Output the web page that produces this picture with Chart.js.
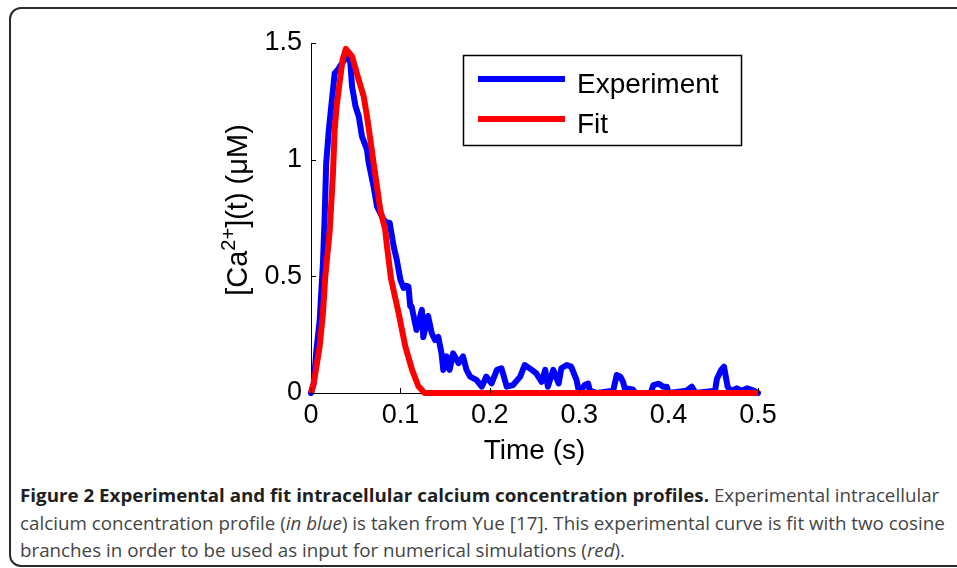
<!DOCTYPE html>
<html>
<head>
<meta charset="utf-8">
<script src="https://cdn.jsdelivr.net/npm/chart.js@4/dist/chart.umd.min.js"></script>
<style>
    body {
        margin: 0;
        width: 957px;
        height: 568px;
        background: #ffffff;
        overflow: hidden;
        position: relative;
    }
    .frame {
        position: absolute;
        left: 9px;
        top: 7px;
        width: 1000px;
        height: 560px;
        border: 2px solid #2b2b2b;
        border-radius: 12px;
        box-sizing: border-box;
    }
    #chartWrap {
        position: absolute;
        left: 0;
        top: 0;
        width: 957px;
        height: 480px;
    }
    .caption {
        position: absolute;
        left: 20px;
        top: 481px;
        font-family: 'Open Sans', sans-serif;
        font-size: 18.5px;
        line-height: 27.5px;
        color: #454545;
        white-space: nowrap;
        transform: scaleX(1.015);
        transform-origin: left top;
    }
    .caption b {
        color: #1f1f1f;
    }
</style>
</head>
<body>
<div class="frame"></div>
<div id="chartWrap"><canvas id="calciumChart" width="957" height="480"></canvas></div>
<div class="caption">
    <b>Figure 2 Experimental and fit intracellular calcium concentration profiles.</b> Experimental intracellular<br>
    calcium concentration profile (<i>in blue</i>) is taken from Yue [17]. This experimental curve is fit with two cosine<br>
    branches in order to be used as input for numerical simulations (<i>red</i>).
</div>

<script>
// Experimental trace (blue)
const expTime = [0, 0.003, 0.006, 0.0097, 0.0134, 0.0153, 0.017, 0.020, 0.0227, 0.0265,
    0.030, 0.034, 0.040, 0.042, 0.044, 0.0459, 0.0497, 0.0534, 0.057, 0.0626,
    0.0645, 0.070, 0.0738, 0.0813, 0.085, 0.088, 0.0925, 0.096, 0.100, 0.1036,
    0.106, 0.109, 0.111, 0.1126, 0.118, 0.124, 0.1256, 0.131, 0.135, 0.1387,
    0.1424, 0.146, 0.148, 0.1517, 0.155, 0.159, 0.165, 0.170, 0.174, 0.178,
    0.185, 0.191, 0.196, 0.202, 0.208, 0.213, 0.219, 0.226, 0.234, 0.239,
    0.247, 0.252, 0.258, 0.262, 0.265, 0.271, 0.277, 0.280, 0.286, 0.291,
    0.297, 0.300, 0.306, 0.310, 0.312, 0.320, 0.338, 0.342, 0.346, 0.349,
    0.351, 0.360, 0.363, 0.380, 0.383, 0.389, 0.394, 0.398, 0.400, 0.420,
    0.426, 0.430, 0.452, 0.454, 0.459, 0.462, 0.464, 0.466, 0.470, 0.476,
    0.482, 0.488, 0.495, 0.500];
const expCa = [0, 0.04, 0.18, 0.31, 0.56, 0.757, 0.985, 1.13, 1.23, 1.37,
    1.385, 1.41, 1.44, 1.445, 1.415, 1.315, 1.23, 1.186, 1.10, 1.043,
    0.987, 0.885, 0.80, 0.742, 0.73, 0.73, 0.628, 0.57, 0.485, 0.45,
    0.46, 0.456, 0.372, 0.37, 0.27, 0.356, 0.24, 0.33, 0.257, 0.227,
    0.24, 0.17, 0.099, 0.157, 0.099, 0.17, 0.128, 0.157, 0.099, 0.07,
    0.056, 0.027, 0.07, 0.041, 0.099, 0.106, 0.027, 0.034, 0.07, 0.12,
    0.099, 0.084, 0.048, 0.099, 0.027, 0.099, 0.041, 0.106, 0.12, 0.113,
    0.056, 0.0, 0.034, 0.04, 0.01, 0, 0.01, 0.077, 0.07, 0.048,
    0.02, 0.015, 0, 0, 0.034, 0.04, 0.027, 0.027, 0, 0.01,
    0.027, 0, 0.01, 0.06, 0.10, 0.113, 0.07, 0.027, 0.008, 0.02,
    0.01, 0.02, 0.01, 0];

// Two-branch cosine fit (red)
const fitTime = [0, 0.003, 0.0097, 0.0134, 0.016, 0.021, 0.0246, 0.0265, 0.0287, 0.032,
    0.0354, 0.039, 0.0459, 0.0533, 0.059, 0.0626, 0.0664, 0.070, 0.0738, 0.0775,
    0.083, 0.085, 0.0895, 0.098, 0.1055, 0.113, 0.120, 0.127, 0.500];
const fitCa = [0, 0.04, 0.20, 0.343, 0.50, 0.70, 0.944, 1.13, 1.23, 1.33,
    1.43, 1.475, 1.443, 1.343, 1.27, 1.186, 1.086, 0.986, 0.885, 0.785,
    0.70, 0.628, 0.49, 0.342, 0.20, 0.10, 0.03, 0, 0];

const xTicks = [0, 0.1, 0.2, 0.3, 0.4, 0.5];
const xTickLabels = ['0', '0.1', '0.2', '0.3', '0.4', '0.5'];
const yTicks = [0, 0.5, 1, 1.5];
const yTickLabels = ['0', '0.5', '1', '1.5'];

const seriesLabels = ['Experiment', 'Fit'];
const seriesColors = ['#0000FF', '#FF0000'];

const yTitleParts = [
    { text: '[Ca', sup: false },
    { text: '2+', sup: true },
    { text: '](t) (\u03BCM)', sup: false }
];

const FONT = '"Liberation Sans", Arial, sans-serif';

document.addEventListener('DOMContentLoaded', function() {
    initializeCalciumChart();
});

function toPoints(xs, ys) {
    return xs.map((x, i) => ({ x: x, y: ys[i] }));
}

// Matlab style ticks pointing into the plot
const inwardTicksPlugin = {
    id: 'inwardTicks',
    afterDraw(chart) {
        const ctx = chart.ctx;
        const xScale = chart.scales.x;
        const yScale = chart.scales.y;
        const area = chart.chartArea;
        ctx.save();
        ctx.strokeStyle = '#000000';
        ctx.lineWidth = 1;
        ctx.beginPath();
        xScale.ticks.forEach(t => {
            const px = Math.round(xScale.getPixelForValue(t.value)) + 0.5;
            ctx.moveTo(px, area.bottom);
            ctx.lineTo(px, area.bottom - 5);
        });
        yScale.ticks.forEach(t => {
            const py = Math.round(yScale.getPixelForValue(t.value)) + 0.5;
            ctx.moveTo(area.left, py);
            ctx.lineTo(area.left + 5, py);
        });
        ctx.stroke();
        ctx.restore();
    }
};

// Rotated y title with a superscript
const yTitlePlugin = {
    id: 'yTitle',
    afterDraw(chart) {
        const ctx = chart.ctx;
        const area = chart.chartArea;
        const bigFont = '29px ' + FONT;
        const smallFont = '20px ' + FONT;
        ctx.save();
        let total = 0;
        yTitleParts.forEach(p => {
            ctx.font = p.sup ? smallFont : bigFont;
            p.w = ctx.measureText(p.text).width;
            total += p.w;
        });
        ctx.translate(247, (area.top + area.bottom) / 2 - 8);
        ctx.rotate(-Math.PI / 2);
        ctx.fillStyle = '#000000';
        ctx.textBaseline = 'alphabetic';
        ctx.textAlign = 'left';
        let x = -total / 2;
        yTitleParts.forEach(p => {
            ctx.font = p.sup ? smallFont : bigFont;
            ctx.fillText(p.text, x, p.sup ? -12 : 0);
            x += p.w;
        });
        ctx.restore();
    }
};

// Boxed legend inside the axes, top right
const boxLegendPlugin = {
    id: 'boxLegend',
    afterDraw(chart) {
        const ctx = chart.ctx;
        ctx.save();
        ctx.strokeStyle = '#000000';
        ctx.lineWidth = 1.5;
        ctx.fillStyle = '#ffffff';
        ctx.fillRect(463.5, 55.5, 278, 90);
        ctx.strokeRect(463.5, 55.5, 278, 90);
        ctx.font = '28px ' + FONT;
        ctx.textBaseline = 'alphabetic';
        chart.data.datasets.forEach((ds, i) => {
            const y = 79 + i * 40;
            ctx.strokeStyle = ds.borderColor;
            ctx.lineWidth = 6;
            ctx.beginPath();
            ctx.moveTo(478, y);
            ctx.lineTo(565, y);
            ctx.stroke();
            ctx.fillStyle = '#000000';
            ctx.fillText(ds.label, 577, y + 14);
        });
        ctx.restore();
    }
};

function initializeCalciumChart() {
    const ctx = document.getElementById('calciumChart');
    if (!ctx) return;

    const chartData = {
        datasets: [{
            label: seriesLabels[0],
            data: toPoints(expTime, expCa),
            borderColor: seriesColors[0],
            borderWidth: 6,
            pointRadius: 0,
            tension: 0,
            borderJoinStyle: 'round',
            borderCapStyle: 'round',
            clip: false,
            order: 1
        }, {
            label: seriesLabels[1],
            data: toPoints(fitTime, fitCa),
            borderColor: seriesColors[1],
            borderWidth: 6,
            pointRadius: 0,
            tension: 0,
            borderJoinStyle: 'round',
            borderCapStyle: 'butt',
            clip: false,
            order: 0
        }]
    };

    const config = {
        type: 'line',
        data: chartData,
        options: {
            responsive: false,
            animation: false,
            layout: {
                padding: { left: 0, right: 199, top: 43, bottom: 0 }
            },
            plugins: {
                legend: { display: false },
                tooltip: { enabled: false }
            },
            scales: {
                x: {
                    type: 'linear',
                    min: 0,
                    max: 0.5,
                    afterFit: function(scale) { scale.height = 87; },
                    afterBuildTicks: function(scale) {
                        scale.ticks = xTicks.map(v => ({ value: v }));
                    },
                    grid: { display: false, drawTicks: false },
                    border: { display: true, color: '#000000', width: 1 },
                    ticks: {
                        color: '#000000',
                        padding: 6,
                        maxRotation: 0,
                        font: { family: FONT, size: 27 },
                        callback: function(value, index) {
                            return xTickLabels[index];
                        }
                    },
                    title: {
                        display: true,
                        text: 'Time (s)',
                        color: '#000000',
                        font: { family: FONT, size: 28 },
                        padding: { top: 0, bottom: 12 }
                    }
                },
                y: {
                    type: 'linear',
                    min: 0,
                    max: 1.5,
                    afterFit: function(scale) { scale.width = 311; },
                    afterBuildTicks: function(scale) {
                        scale.ticks = yTicks.map(v => ({ value: v }));
                    },
                    grid: { display: false, drawTicks: false },
                    border: { display: true, color: '#000000', width: 1 },
                    ticks: {
                        color: '#000000',
                        padding: 9,
                        font: { family: FONT, size: 27 },
                        callback: function(value, index) {
                            return yTickLabels[index];
                        }
                    }
                }
            }
        },
        plugins: [inwardTicksPlugin, yTitlePlugin, boxLegendPlugin]
    };

    new Chart(ctx, config);
}
</script>
</body>
</html>
